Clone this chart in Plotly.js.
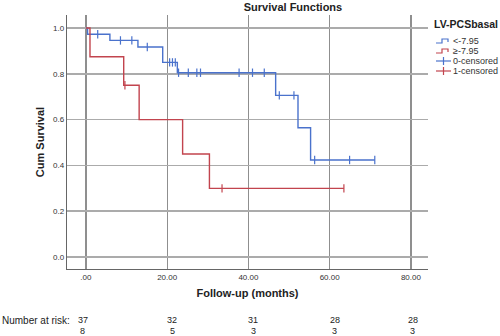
<!DOCTYPE html>
<html><head><meta charset="utf-8">
<script src="https://cdn.plot.ly/plotly-3.0.1.min.js"></script>
<style>html,body{margin:0;padding:0;background:#fff}#chart{width:500px;height:336px}</style>
</head><body><div id="chart"></div>
<script>
// ---- data ----
const groupNames = ['<-7.95', '≥-7.95'];
const censorNames = ['0-censored', '1-censored'];

const lowTimes = [0, 0.4, 5.9, 12.8, 18.9, 22.5, 46.7, 52.2, 55.3];
const lowSurv  = [1, 0.973, 0.946, 0.917, 0.850, 0.805, 0.706, 0.565, 0.424];
const lowCensor = [2.9, 8.5, 11.3, 15.1, 20.6, 21.3, 22.0, 22.8, 25.2, 27.3, 28.2, 37.7, 41.0, 43.9, 47.6, 51.2, 56.3, 64.9, 71.1];
const lowEnd = 71.1;

const highTimes = [0, 1.0, 9.3, 13.1, 23.8, 30.4];
const highSurv  = [1, 0.875, 0.75, 0.60, 0.45, 0.30];
const highCensor = [9.6, 33.5, 63.5];
const highEnd = 63.5;

const xTickVals = [0, 20, 40, 60, 80];
const xTickText = ['.00', '20.00', '40.00', '60.00', '80.00'];
const yTickVals = [0, 0.2, 0.4, 0.6, 0.8, 1.0];
const yTickText = ['0.0', '0.2', '0.4', '0.6', '0.8', '1.0'];

const riskTimes = [0, 20, 40, 60, 80];
const riskLow  = [37, 32, 31, 28, 28];
const riskHigh = [8, 5, 3, 3, 3];

// ---- styles ----
const BLUE = '#4a72cc';
const RED = '#c2444e';
const FONT = 'Liberation Sans, Arial, sans-serif';

function stepXY(times, surv, end) {
  const x = times.slice(), y = surv.slice();
  x.push(end); y.push(surv[surv.length - 1]);
  return {x, y};
}
function survAt(times, surv, t) {
  let s = surv[0];
  for (let i = 0; i < times.length; i++) if (times[i] <= t) s = surv[i];
  return s;
}

const lowStep = stepXY(lowTimes, lowSurv, lowEnd);
const highStep = stepXY(highTimes, highSurv, highEnd);

const traces = [
  {x: lowStep.x, y: lowStep.y, mode: 'lines', line: {shape: 'hv', color: BLUE, width: 1.4}, name: groupNames[0], hoverinfo: 'skip'},
  {x: highStep.x, y: highStep.y, mode: 'lines', line: {shape: 'hv', color: RED, width: 1.4}, name: groupNames[1], hoverinfo: 'skip'},
  {x: lowCensor, y: lowCensor.map(t => survAt(lowTimes, lowSurv, t)), mode: 'markers', name: censorNames[0],
   marker: {symbol: 'line-ns-open', size: 6, color: BLUE, line: {color: BLUE, width: 1.2}}},
  {x: highCensor, y: highCensor.map(t => survAt(highTimes, highSurv, t)), mode: 'markers', name: censorNames[1],
   marker: {symbol: 'line-ns-open', size: 6, color: RED, line: {color: RED, width: 1.2}}}
];

// pixel -> paper helpers (plot area 67..428 x, 15..269 y)
const PL = 67, PR = 428, PT = 15, PB = 269;
const px = v => (v - PL) / (PR - PL);
const py = v => (PB - v) / (PB - PT);

const annotations = [];
const shapes = [];

// legend
annotations.push({xref: 'paper', yref: 'paper', x: px(432), y: py(24), xanchor: 'left', yanchor: 'middle',
  text: '<b>LV-PCSbasal</b>', showarrow: false, font: {family: FONT, size: 10.5, color: '#222'}});
const legendItems = [
  {label: groupNames[0], color: BLUE, kind: 'step', yc: 41},
  {label: groupNames[1], color: RED, kind: 'step', yc: 51},
  {label: censorNames[0], color: BLUE, kind: 'cross', yc: 61},
  {label: censorNames[1], color: RED, kind: 'cross', yc: 71}
];
legendItems.forEach(it => {
  if (it.kind === 'step') {
    const p = `M ${px(436)} ${py(it.yc + 2)} L ${px(442)} ${py(it.yc + 2)} L ${px(442)} ${py(it.yc - 2)} L ${px(448)} ${py(it.yc - 2)} L ${px(448)} ${py(it.yc + 1)}`;
    shapes.push({type: 'path', xref: 'paper', yref: 'paper', path: p, line: {color: it.color, width: 1.2}});
  } else {
    shapes.push({type: 'line', xref: 'paper', yref: 'paper', x0: px(436), x1: px(451), y0: py(it.yc), y1: py(it.yc), line: {color: it.color, width: 1.2}});
    shapes.push({type: 'line', xref: 'paper', yref: 'paper', x0: px(443.5), x1: px(443.5), y0: py(it.yc - 4), y1: py(it.yc + 4), line: {color: it.color, width: 1.2}});
  }
  annotations.push({xref: 'paper', yref: 'paper', x: px(451), y: py(it.yc), xanchor: 'left', yanchor: 'middle',
    text: it.label, showarrow: false, font: {family: FONT, size: 9, color: '#333'}});
});

// number at risk
annotations.push({xref: 'paper', yref: 'paper', x: px(0), y: py(320), xanchor: 'left', yanchor: 'middle',
  text: 'Number at risk:', showarrow: false, font: {family: FONT, size: 10, color: '#222'}});
const shifts = [-3, 5, 5, 5, 2];
riskTimes.forEach((t, i) => {
  annotations.push({xref: 'x', yref: 'paper', x: t, y: py(320), xanchor: 'center', yanchor: 'middle', xshift: shifts[i],
    text: String(riskLow[i]), showarrow: false, font: {family: FONT, size: 9, color: '#222'}});
  annotations.push({xref: 'x', yref: 'paper', x: t, y: py(331), xanchor: 'center', yanchor: 'middle', xshift: shifts[i],
    text: String(riskHigh[i]), showarrow: false, font: {family: FONT, size: 9, color: '#222'}});
});

const layout = {
  width: 500, height: 336,
  margin: {l: PL, r: 500 - PR, t: PT, b: 336 - PB, pad: 0},
  paper_bgcolor: '#fff', plot_bgcolor: '#fff',
  showlegend: false,
  title: {text: '<b>Survival Functions</b>', font: {family: FONT, size: 11, color: '#222'},
    xref: 'paper', x: px(293), xanchor: 'center', yref: 'container', y: 1 - 7 / 336, yanchor: 'middle'},
  xaxis: {range: [-4.66, 84.2], tickvals: xTickVals, ticktext: xTickText, showgrid: true, gridcolor: '#8f8f8f', gridwidth: 1.3,
    zeroline: false, showline: true, linecolor: '#666', linewidth: 1.2, ticks: '', tickfont: {family: FONT, size: 8, color: '#333'},
    title: {text: '<b>Follow-up (months)</b>', font: {family: FONT, size: 11, color: '#222'}, standoff: 8}},
  yaxis: {range: [-0.052, 1.057], tickvals: yTickVals, ticktext: yTickText, showgrid: true, gridcolor: '#ababab', gridwidth: 1.6,
    zeroline: false, showline: true, linecolor: '#666', linewidth: 1.2, ticks: '', tickfont: {family: FONT, size: 8, color: '#333'},
    title: {text: '<b>Cum Survival</b>', font: {family: FONT, size: 11, color: '#222'}, standoff: 6}},
  annotations, shapes
};

Plotly.newPlot('chart', traces, layout, {displayModeBar: false, staticPlot: true});
</script></body></html>
